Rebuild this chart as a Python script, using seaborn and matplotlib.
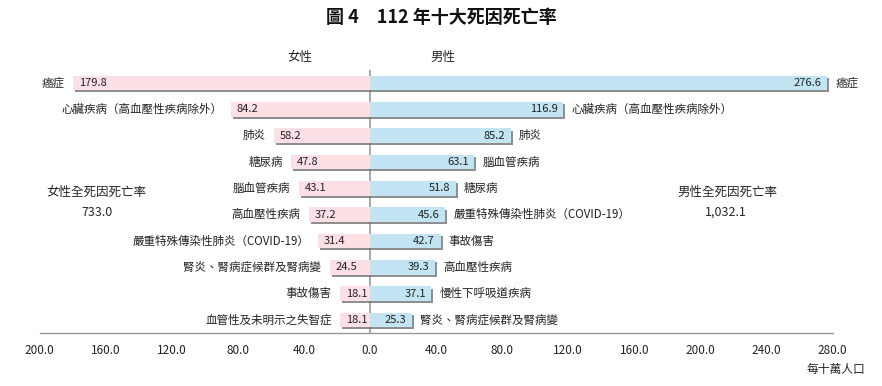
import matplotlib.pyplot as plt
import matplotlib.patheffects as pe
import seaborn as sns
import numpy as np
import pandas as pd

female_causes = ['癌症', '心臟疾病（高血壓性疾病除外）', '肺炎', '糖尿病', '腦血管疾病',
                 '高血壓性疾病', '嚴重特殊傳染性肺炎（COVID-19）', '腎炎、腎病症候群及腎病變',
                 '事故傷害', '血管性及未明示之失智症']
female_rates = [179.8, 84.2, 58.2, 47.8, 43.1, 37.2, 31.4, 24.5, 18.1, 18.1]

male_causes = ['癌症', '心臟疾病（高血壓性疾病除外）', '肺炎', '腦血管疾病', '糖尿病',
               '嚴重特殊傳染性肺炎（COVID-19）', '事故傷害', '高血壓性疾病',
               '慢性下呼吸道疾病', '腎炎、腎病症候群及腎病變']
male_rates = [276.6, 116.9, 85.2, 63.1, 51.8, 45.6, 42.7, 39.3, 37.1, 25.3]

ranks = [str(i) for i in range(1, 11)]
xticks = [-200, -160, -120, -80, -40, 0, 40, 80, 120, 160, 200, 240, 280]

female_total = '733.0'
male_total = '1,032.1'

sns.set_theme(style='white')
plt.rcParams['font.family'] = ['Noto Sans CJK TC', 'DejaVu Sans']

df = pd.DataFrame({'rank': ranks,
                   'female': -np.array(female_rates),
                   'male': np.array(male_rates)})

fig = plt.figure(figsize=(8.82, 3.86), dpi=100)
ax = fig.add_axes([0.045, 0.137, 0.899, 0.682])

pink = '#FDE0E6'
blue = '#C2E4F3'
sns.barplot(data=df, x='female', y='rank', orient='h', color=pink,
            width=0.55, saturation=1, ax=ax)
sns.barplot(data=df, x='male', y='rank', orient='h', color=blue,
            width=0.55, saturation=1, ax=ax)

# soft drop shadow like the original office chart
shadow = [pe.SimplePatchShadow(offset=(1.5, -1.6), shadow_rgbFace='#6a6a6a', alpha=0.75),
          pe.Normal()]
for p in ax.patches:
    p.set_path_effects(shadow)
    p.set_edgecolor('none')

fs = 8
for i in range(10):
    fv, mv = female_rates[i], male_rates[i]
    ax.annotate(f'{fv:.1f}', (-fv, i), xytext=(4, 0), textcoords='offset points',
                ha='left', va='center', fontsize=fs, color='#222222')
    ax.annotate(female_causes[i], (-fv, i), xytext=(-6, 0), textcoords='offset points',
                ha='right', va='center', fontsize=8.3, color='#222222')
    ax.annotate(f'{mv:.1f}', (mv, i), xytext=(-4, 0), textcoords='offset points',
                ha='right', va='center', fontsize=fs, color='#222222')
    ax.annotate(male_causes[i], (mv, i), xytext=(6, 0), textcoords='offset points',
                ha='left', va='center', fontsize=8.3, color='#222222')

ax.axvline(0, color='#999999', lw=1.2, zorder=0.5)
ax.set_xlim(-200, 280)
ax.set_ylim(9.5, -0.5)
ax.set_xticks(xticks)
ax.set_xticklabels([f'{abs(t):.1f}' for t in xticks], fontsize=8.5, color='#222222')
ax.tick_params(axis='x', direction='in', length=4, width=0.8, color='#999999', pad=8)
ax.set_yticks([])
ax.set_xlabel('')
ax.set_ylabel('')
for s in ['left', 'right', 'top']:
    ax.spines[s].set_visible(False)
ax.spines['bottom'].set_color('#999999')
ax.spines['bottom'].set_linewidth(1)

fig.text(0.5, 0.955, '圖 4　112 年十大死因死亡率', ha='center', va='center',
         fontsize=13, fontweight='bold', color='#111111')
fig.text(300 / 882, 1 - 57 / 386, '女性', ha='center', va='center', fontsize=9)
fig.text(443 / 882, 1 - 57 / 386, '男性', ha='center', va='center', fontsize=9)
fig.text(96 / 882, 1 - 192 / 386, '女性全死因死亡率', ha='center', va='center', fontsize=9)
fig.text(97 / 882, 1 - 213 / 386, female_total, ha='center', va='center', fontsize=9)
fig.text(727 / 882, 1 - 192 / 386, '男性全死因死亡率', ha='center', va='center', fontsize=9)
fig.text(726 / 882, 1 - 212 / 386, male_total, ha='center', va='center', fontsize=9)
fig.text(836 / 882, 1 - 369 / 386, '每十萬人口', ha='center', va='center', fontsize=8.5)

fig.savefig('out.png', dpi=100, facecolor='white')
